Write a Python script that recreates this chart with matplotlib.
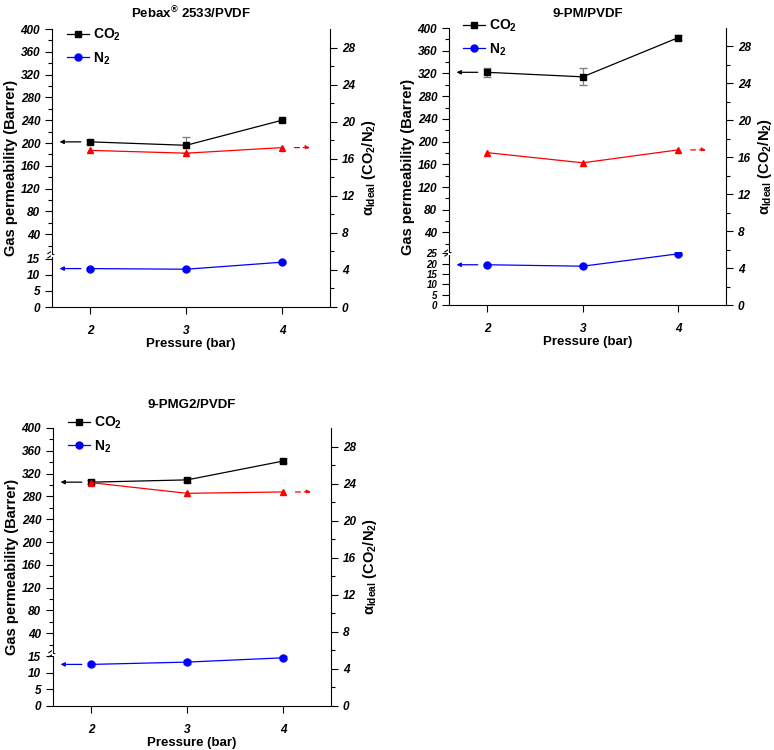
import matplotlib
matplotlib.use("Agg")
import matplotlib.pyplot as plt
from matplotlib.lines import Line2D

plt.rcParams['font.family'] = ['Liberation Sans', 'DejaVu Sans']
plt.rcParams['mathtext.default'] = 'regular'

pressure = [2, 3, 4]

# Pebax 2533/PVDF
peb_co2 = [202, 196, 240]
peb_co2_err = [3, 14, 3]
peb_n2 = [12.0, 11.8, 14.0]
peb_n2_err = [0.3, 0.4, 0.3]
peb_sel = [16.9, 16.6, 17.2]

# 9-PM/PVDF
pm_co2 = [322, 314, 383]
pm_co2_err = [8, 15, 4]
pm_n2 = [19.5, 18.8, 24.8]
pm_n2_err = [0.5, 0.6, 0.5]
pm_sel = [16.5, 15.4, 16.8]

# 9-PMG2/PVDF
pmg_co2 = [305, 309, 342]
pmg_co2_err = [3, 3, 4]
pmg_n2 = [12.6, 13.3, 14.6]
pmg_n2_err = [0.5, 0.5, 0.4]
pmg_sel = [24.1, 22.95, 23.1]

upper_ticks = list(range(40, 401, 40))
sel_ticks = list(range(0, 29, 4))

W, H = 774, 750
tick_font = dict(fontstyle='italic', fontweight='bold', fontsize=8.5)


def draw_panel(fig, px, title, title_pad, leg_xy, co2, co2_err, n2, n2_err, sel,
               low_max, low_ticks, low_fs):
    left, right, top, bottom = px
    x0 = left / W
    w = (right - left) / W
    y0 = 1 - bottom / H
    h = (bottom - top) / H
    frac = 0.19
    xlim = (1.6, 4.5)

    ax_bot = fig.add_axes([x0, y0, w, h * frac])
    ax_top = fig.add_axes([x0, y0 + h * frac, w, h * (1 - frac)])
    ax_r = fig.add_axes([x0, y0, w, h], facecolor='none')

    for ax in (ax_bot, ax_top, ax_r):
        ax.set_xlim(*xlim)
        ax.spines['top'].set_visible(False)
        ax.spines['right'].set_visible(False)
    ax_top.spines['bottom'].set_visible(False)
    ax_top.set_xticks([])
    ax_r.spines['left'].set_visible(False)
    ax_r.spines['bottom'].set_visible(False)
    ax_r.spines['right'].set_visible(True)
    ax_r.set_xticks([])
    ax_r.patch.set_visible(False)

    # upper segment: CO2
    ax_top.set_ylim(5, 400)
    ax_top.set_yticks(upper_ticks, [str(t) for t in upper_ticks], **tick_font)
    ax_top.set_yticks(list(range(20, 400, 40)), minor=True)
    ax_top.errorbar(pressure, co2, yerr=co2_err, color='black', marker='s', ms=5,
                    lw=0.9, ecolor='gray', elinewidth=0.9, capsize=3)
    ax_top.annotate('', xy=(xlim[0] + 0.05, co2[0]), xytext=(pressure[0] - 0.07, co2[0]),
                    arrowprops=dict(arrowstyle='-|>', color='black', lw=0.9,
                                    mutation_scale=6))

    # lower segment: N2
    ax_bot.set_ylim(0, low_max)
    ax_bot.set_yticks(low_ticks, [str(t) for t in low_ticks],
                      fontstyle='italic', fontweight='bold', fontsize=low_fs)
    ax_bot.set_xticks(pressure, [str(p) for p in pressure], **tick_font)
    ax_bot.errorbar(pressure, n2, yerr=n2_err, color='#0000ff', marker='o', ms=5,
                    lw=0.9, ecolor='gray', elinewidth=0.9, capsize=3)
    ax_bot.annotate('', xy=(xlim[0] + 0.05, n2[0]), xytext=(pressure[0] - 0.07, n2[0]),
                    arrowprops=dict(arrowstyle='-|>', color='#0000ff', lw=0.9,
                                    mutation_scale=6))
    ax_bot.set_xlabel('Pressure (bar)', fontweight='bold', fontsize=9.5, labelpad=1)

    # break marks on left spine
    ax_bot.plot([-0.015, 0.015], [0.93, 1.03], transform=ax_bot.transAxes,
                color='black', lw=0.8, clip_on=False)
    ax_bot.plot([-0.015, 0.015], [1.01, 1.11], transform=ax_bot.transAxes,
                color='black', lw=0.8, clip_on=False)
    ax_bot.plot([0, 0], [0.97, 1.07], transform=ax_bot.transAxes,
                color='white', lw=1.5, clip_on=False, zorder=5)

    # right axis: selectivity
    ax_r.set_ylim(0, 30)
    ax_r.yaxis.set_label_position('right')
    ax_r.yaxis.tick_right()
    ax_r.set_yticks(sel_ticks, [str(t) for t in sel_ticks], **tick_font)
    ax_r.set_yticks(list(range(2, 30, 4)), minor=True)
    ax_r.plot(pressure, sel, color='#ff0000', marker='^', ms=5, lw=0.9)
    ax_r.annotate('', xy=(pressure[-1] + 0.32, sel[-1]), xytext=(pressure[-1] + 0.1, sel[-1]),
                  arrowprops=dict(arrowstyle='-|>', color='#ff0000', lw=0.9,
                                  ls=(0, (4, 3)), mutation_scale=6))
    ax_r.set_ylabel(r'α$_{Ideal}$ (CO$_2$/N$_2$)', fontweight='bold', fontsize=10.5,
                    labelpad=4)

    for ax in (ax_bot, ax_top, ax_r):
        ax.tick_params(which='major', direction='out', length=5, width=0.8)
        ax.tick_params(which='minor', direction='out', length=3, width=0.8)
        for s in ax.spines.values():
            s.set_linewidth(0.8)
    ax_bot.tick_params(axis='x', pad=8)

    # legend
    handles = [Line2D([], [], color='black', marker='s', ms=5, lw=0.9),
               Line2D([], [], color='#0000ff', marker='o', ms=5, lw=0.9)]
    fig.legend(handles, ['CO$_2$', 'N$_2$'], loc='upper left',
               bbox_to_anchor=(leg_xy[0] / W, 1 - leg_xy[1] / H),
               bbox_transform=fig.transFigure, frameon=False, borderpad=0,
               borderaxespad=0, prop=dict(weight='bold', size=10), handlelength=1.6,
               handletextpad=0.3, labelspacing=0.5)

    fig.text(x0 - 41 / W, y0 + h / 2, 'Gas permeability (Barrer)', rotation=90,
             ha='center', va='center', fontweight='bold', fontsize=10.5)
    ax_top.set_title(title, fontweight='bold', fontsize=9.5, pad=title_pad)


fig = plt.figure(figsize=(W / 100, H / 100), dpi=100)

draw_panel(fig, (52, 330, 29, 307), 'Pebax$^{®}$ 2533/PVDF', 8, (67, 27),
           peb_co2, peb_co2_err, peb_n2, peb_n2_err, peb_sel, 16.5, [0, 5, 10, 15], 8.5)
draw_panel(fig, (449, 726, 28, 305), '9-PM/PVDF', 8, (463, 18),
           pm_co2, pm_co2_err, pm_n2, pm_n2_err, pm_sel, 25.5, [0, 5, 10, 15, 20, 25], 7)
draw_panel(fig, (53, 331, 428, 706), '9-PMG2/PVDF', 14.5, (68, 415),
           pmg_co2, pmg_co2_err, pmg_n2, pmg_n2_err, pmg_sel, 16.0, [0, 5, 10, 15], 8.5)

plt.savefig('out.png', dpi=100)
